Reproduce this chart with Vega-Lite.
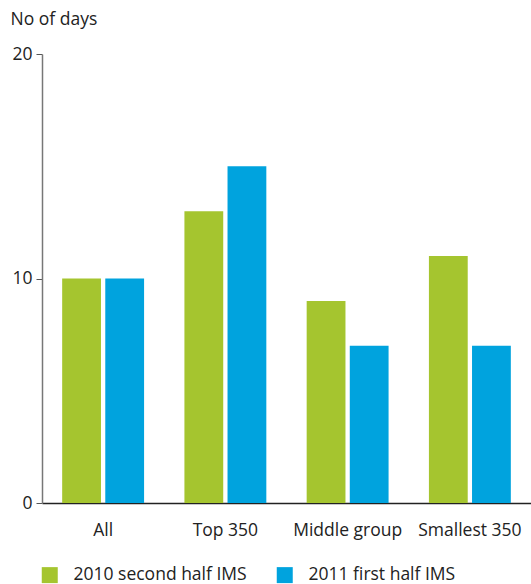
{
  "$schema": "https://vega.github.io/schema/vega-lite/v6.json",
  "autosize": "none",
  "width": 489,
  "height": 449,
  "padding": {"left": 42, "top": 54, "right": 0, "bottom": 81},
  "background": "white",
  "data": {
    "values": [
      {"group": "All", "series": "2010 second half IMS", "days": 10},
      {"group": "All", "series": "2011 first half IMS", "days": 10},
      {"group": "Top 350", "series": "2010 second half IMS", "days": 13},
      {"group": "Top 350", "series": "2011 first half IMS", "days": 15},
      {"group": "Middle group", "series": "2010 second half IMS", "days": 9},
      {"group": "Middle group", "series": "2011 first half IMS", "days": 7},
      {"group": "Smallest 350", "series": "2010 second half IMS", "days": 11},
      {"group": "Smallest 350", "series": "2011 first half IMS", "days": 7}
    ]
  },
  "config": {
    "font": "Open Sans",
    "view": {"stroke": null}
  },
  "mark": {"type": "bar"},
  "encoding": {
    "x": {
      "field": "group",
      "type": "nominal",
      "sort": ["All", "Top 350", "Middle group", "Smallest 350"],
      "scale": {"paddingInner": 0.33, "paddingOuter": 0.165},
      "axis": {
        "title": null,
        "labelAngle": 0,
        "ticks": false,
        "domainColor": "#222222",
        "domainWidth": 1.5,
        "labelFontSize": 17.5,
        "labelColor": "#222222",
        "labelPadding": 18
      }
    },
    "xOffset": {
      "field": "series",
      "type": "nominal",
      "scale": {"paddingInner": 0.1}
    },
    "y": {
      "field": "days",
      "type": "quantitative",
      "scale": {"domain": [0, 20]},
      "axis": {
        "values": [0, 10, 20],
        "grid": false,
        "title": "No of days",
        "titleAngle": 0,
        "titleAlign": "left",
        "titleBaseline": "alphabetic",
        "titleX": -32,
        "titleY": -30,
        "titleFontSize": 17.5,
        "titleFontWeight": "normal",
        "titleColor": "#222222",
        "labelFontSize": 17.5,
        "labelColor": "#222222",
        "labelPadding": 4,
        "tickSize": 6,
        "tickColor": "#555555",
        "domainColor": "#777777",
        "domainWidth": 1.5
      }
    },
    "color": {
      "field": "series",
      "type": "nominal",
      "scale": {"range": ["#a5c52f", "#00a3de"]},
      "legend": {
        "title": null,
        "orient": "none",
        "direction": "horizontal",
        "legendX": -1,
        "legendY": 512,
        "symbolType": "square",
        "symbolSize": 256,
        "symbolStrokeWidth": 0,
        "symbolOpacity": 1,
        "labelFontSize": 17.5,
        "labelLimit": 400,
        "labelColor": "#222222",
        "labelOffset": 15,
        "columnPadding": 29
      }
    }
  }
}
